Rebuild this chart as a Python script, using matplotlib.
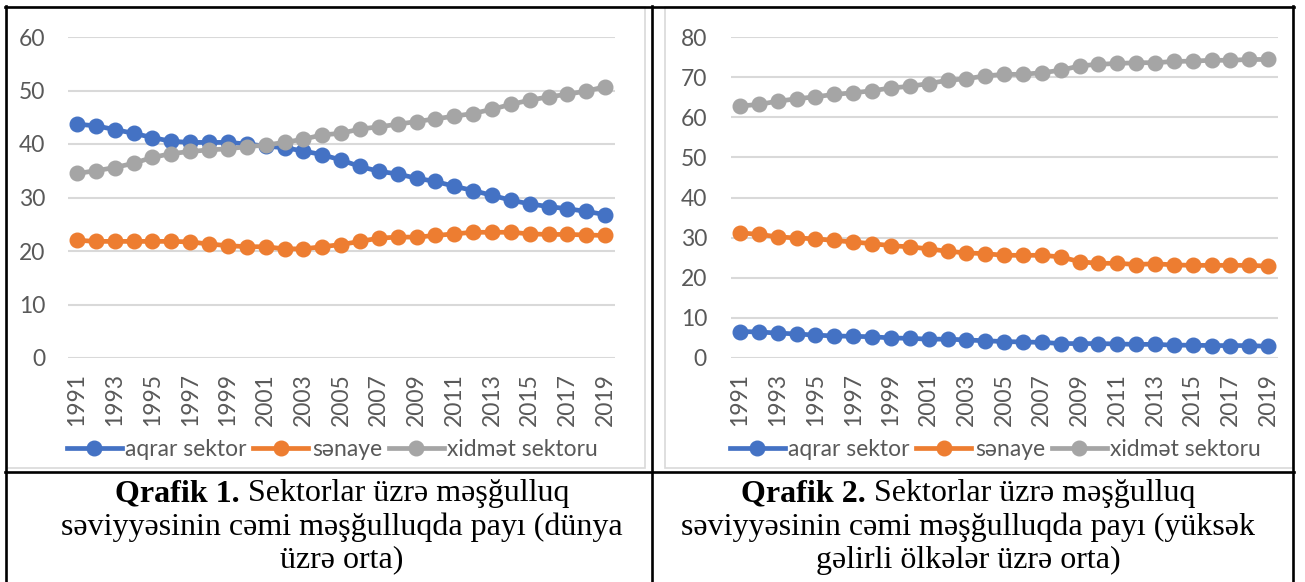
import matplotlib
matplotlib.use("Agg")
import matplotlib.pyplot as plt
from matplotlib.lines import Line2D
from matplotlib.patches import Rectangle

W, H = 1305, 582

years = [str(y) for y in range(1991, 2020)]

# Qrafik 1 - world average
world_aqrar = [43.7, 43.4, 42.7, 42.0, 41.2, 40.5, 40.3, 40.3, 40.3, 40.0,
               39.6, 39.3, 38.7, 38.0, 37.0, 35.8, 34.9, 34.4, 33.6, 33.0,
               32.1, 31.3, 30.4, 29.5, 28.8, 28.3, 27.9, 27.4, 26.8]
world_senaye = [22.0, 21.8, 21.8, 21.8, 21.8, 21.8, 21.7, 21.3, 21.0, 20.8,
                20.8, 20.4, 20.4, 20.8, 21.2, 21.8, 22.4, 22.6, 22.6, 22.9,
                23.2, 23.5, 23.5, 23.5, 23.2, 23.1, 23.1, 23.0, 22.9]
world_xidmet = [34.5, 35.0, 35.6, 36.4, 37.5, 38.2, 38.6, 38.9, 39.1, 39.5,
                39.8, 40.3, 40.9, 41.7, 42.0, 42.8, 43.2, 43.7, 44.2, 44.7,
                45.2, 45.7, 46.5, 47.4, 48.2, 48.8, 49.3, 49.9, 50.7]

# Qrafik 2 - high income countries
high_aqrar = [6.6, 6.5, 6.2, 6.0, 5.7, 5.5, 5.4, 5.3, 5.0, 4.9,
              4.7, 4.7, 4.5, 4.3, 4.1, 4.0, 3.9, 3.6, 3.6, 3.6,
              3.5, 3.4, 3.4, 3.2, 3.2, 3.1, 3.1, 3.1, 2.9]
high_senaye = [31.2, 30.8, 30.2, 29.9, 29.7, 29.3, 28.9, 28.5, 28.0, 27.7,
               27.2, 26.6, 26.2, 26.0, 25.6, 25.6, 25.6, 25.2, 24.0, 23.6,
               23.6, 23.3, 23.5, 23.2, 23.1, 23.1, 23.1, 23.1, 22.9]
high_xidmet = [62.8, 63.2, 64.0, 64.6, 65.1, 65.7, 66.1, 66.6, 67.3, 67.7,
               68.4, 69.2, 69.6, 70.3, 70.7, 70.7, 71.1, 71.7, 72.8, 73.2,
               73.4, 73.6, 73.6, 73.9, 74.0, 74.2, 74.2, 74.4, 74.4]

series_names = ["aqrar sektor", "sənaye", "xidmət sektoru"]
colors = ["#4472C4", "#ED7D31", "#A5A5A5"]

captions = [
    ("Qrafik 1.", " Sektorlar üzrə məşğulluq",
     "səviyyəsinin cəmi məşğulluqda payı (dünya", "üzrə orta)"),
    ("Qrafik 2.", " Sektorlar üzrə məşğulluq",
     "səviyyəsinin cəmi məşğulluqda payı (yüksək", "gəlirli ölkələr üzrə orta)"),
]

SANS = ["Lato", "DejaVu Sans"]
SERIF = ["Liberation Serif", "DejaVu Serif"]
TICK_COLOR = "#595959"
GRID_COLOR = "#D9D9D9"
LABEL_SIZE = 16.5


def fx(x):
    return x / W


def fy(y):
    return 1 - y / H


fig = plt.figure(figsize=(W / 100, H / 100), dpi=100)
fig.patch.set_facecolor("white")


def draw_chart(left_px, data, ymax, ypad):
    ax = fig.add_axes([fx(left_px), fy(358), 547 / W, 321 / H])
    for values, name, color in zip(data, series_names, colors):
        ax.plot(years, values, color=color, linewidth=3.4, marker="o",
                markersize=10.5, label=name, zorder=3)
    ax.set_xlim(-0.5, len(years) - 0.5)
    ax.set_ylim(0, ymax)
    ax.set_yticks(range(0, ymax + 1, 10))
    ax.set_xticks(years[::2])
    ax.grid(axis="y", color=GRID_COLOR, linewidth=1.5)
    ax.set_axisbelow(True)
    for s in ax.spines.values():
        s.set_visible(False)
    ax.tick_params(axis="both", length=0, colors=TICK_COLOR, labelsize=LABEL_SIZE)
    ax.tick_params(axis="y", pad=ypad)
    ax.tick_params(axis="x", pad=11, labelrotation=90)
    for lbl in ax.get_xticklabels() + ax.get_yticklabels():
        lbl.set_family(SANS)
    leg = ax.legend(loc="center left", bbox_to_anchor=(fx(left_px - 1), fy(450)),
                    bbox_transform=fig.transFigure, ncol=3, frameon=False,
                    numpoints=1, handlelength=2.4, handletextpad=0.15,
                    columnspacing=0.3, borderpad=0, borderaxespad=0,
                    prop={"family": SANS, "size": LABEL_SIZE})
    for t in leg.get_texts():
        t.set_color(TICK_COLOR)
    return ax


draw_chart(67.6, [world_aqrar, world_senaye, world_xidmet], 60, 16)
draw_chart(730.6, [high_aqrar, high_senaye, high_xidmet], 80, 17)

# light chart-area frames
for x0, x1 in [(7, 645), (665, 1293)]:
    fig.add_artist(Rectangle((fx(x0), fy(468)), (x1 - x0) / W, 461 / H,
                             transform=fig.transFigure, fill=False,
                             edgecolor=GRID_COLOR, linewidth=1.2))

# table borders
border = dict(color="black", linewidth=1.9, transform=fig.transFigure)
fig.add_artist(Line2D([fx(5), fx(1294)], [fy(6.5), fy(6.5)], **border))
fig.add_artist(Line2D([fx(5), fx(1294)], [fy(471.5), fy(471.5)], **border))
for xb in (6, 652, 1293):
    fig.add_artist(Line2D([fx(xb), fx(xb)], [fy(6), fy(582)], **border))

# captions
renderer = fig.canvas.get_renderer()
cap_size = 23


def caption_line(xc, y, bold, rest):
    t1 = fig.text(0, fy(y), bold, fontweight="bold", family=SERIF,
                  fontsize=cap_size, va="center", ha="left")
    t2 = fig.text(0, fy(y), rest, family=SERIF, fontsize=cap_size,
                  va="center", ha="left")
    w1 = t1.get_window_extent(renderer).width if bold else 0
    w2 = t2.get_window_extent(renderer).width
    x0 = xc - (w1 + w2) / 2
    t1.set_x(fx(x0))
    t2.set_x(fx(x0 + w1))


for (bold, rest1, line2, line3), xc in zip(captions, (342, 968)):
    caption_line(xc, 494, bold, rest1)
    caption_line(xc, 527, "", line2)
    caption_line(xc, 560, "", line3)

fig.savefig("out.png", dpi=100, facecolor="white")
